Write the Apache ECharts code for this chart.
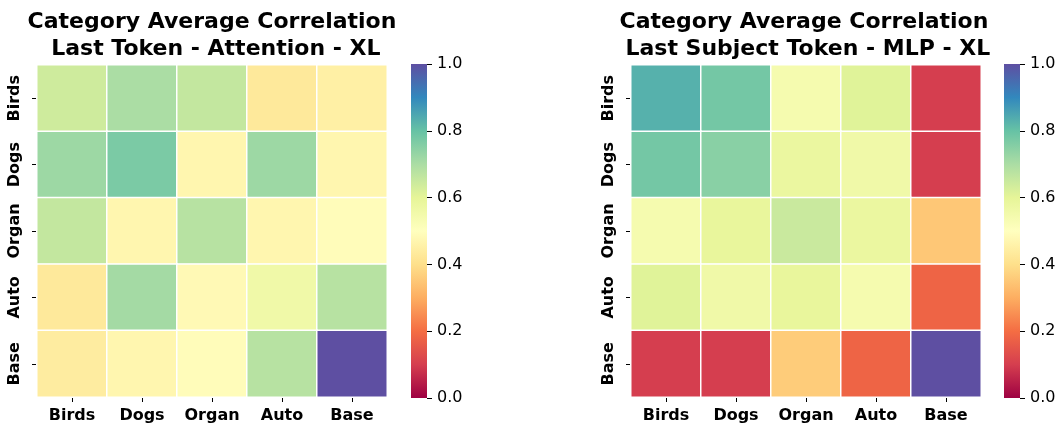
<!DOCTYPE html>
<html><head><meta charset="utf-8">
<script src="https://cdn.jsdelivr.net/npm/echarts@6/dist/echarts.min.js"></script>
<style>html,body{margin:0;padding:0;background:#fff}#c{width:1060px;height:428px}</style>
</head><body><div id="c"></div>
<script>
const categories = ['Birds','Dogs','Organ','Auto','Base'];
const titleLeft = 'Category Average Correlation\n Last Token - Attention - XL';
const titleRight = 'Category Average Correlation\n Last Subject Token - MLP - XL';
// rows: Birds..Base, columns: Birds..Base
const attnValues = [
  [0.64, 0.70, 0.66, 0.43, 0.45],
  [0.72, 0.77, 0.47, 0.72, 0.47],
  [0.66, 0.47, 0.68, 0.47, 0.49],
  [0.43, 0.71, 0.48, 0.56, 0.68],
  [0.44, 0.47, 0.49, 0.68, 1.00]
];
const mlpValues = [
  [0.83, 0.78, 0.54, 0.61, 0.10],
  [0.78, 0.75, 0.58, 0.56, 0.10],
  [0.54, 0.59, 0.65, 0.58, 0.35],
  [0.61, 0.56, 0.59, 0.54, 0.18],
  [0.10, 0.10, 0.36, 0.18, 1.00]
];
const colorbarTicks = [0, 0.2, 0.4, 0.6, 0.8, 1.0];
const spectral = ['#9e0142','#d53e4f','#f46d43','#fdae61','#fee08b','#ffffbf','#e6f598','#abdda4','#66c2a5','#3288bd','#5e4fa2'];

function toData(m){const d=[];m.forEach((row,r)=>row.forEach((v,c)=>d.push([c,r,v])));return d;}
const FONT='DejaVu Sans';
const chart = echarts.init(document.getElementById('c'));
function catX(gi){return {type:'category',gridIndex:gi,data:categories,splitArea:{show:false},
  axisLine:{show:false},axisTick:{show:true,alignWithLabel:true,interval:0,length:5,lineStyle:{color:'#000',width:1}},
  axisLabel:{interval:0,fontFamily:FONT,fontWeight:'bold',fontSize:16,color:'#000',margin:11}};}
function catY(gi){return {type:'category',gridIndex:gi,data:categories,inverse:true,
  axisLine:{show:false},axisTick:{show:true,alignWithLabel:true,interval:0,length:5,lineStyle:{color:'#000',width:1}},
  axisLabel:{interval:0,fontFamily:FONT,fontWeight:'bold',fontSize:16,color:'#000',rotate:90,margin:14}};}
function cbX(gi){return {type:'category',gridIndex:gi,data:['c'],show:false};}
function cbY(gi){return {type:'value',gridIndex:gi,min:colorbarTicks[0],max:colorbarTicks[colorbarTicks.length-1],interval:0.2,position:'right',
  splitLine:{show:false},axisLine:{show:false},
  axisTick:{show:true,length:5,lineStyle:{color:'#000'}},
  axisLabel:{fontFamily:FONT,fontSize:16,color:'#000',margin:10,formatter:v=>v.toFixed(1)}};}
const grad = new echarts.graphic.LinearGradient(0,1,0,0, spectral.map((c,i)=>({offset:i/10,color:c})));
const tStyle={fontFamily:FONT,fontWeight:'bold',fontSize:22,lineHeight:27,color:'#000'};
chart.setOption({
  animation:false,
  title:[
    {text:titleLeft,left:207,top:4,textAlign:'center',textStyle:tStyle},
    {text:titleRight,left:799,top:4,textAlign:'center',textStyle:tStyle}
  ],
  grid:[
    {left:37,top:65,width:350,height:332},
    {left:631,top:65,width:350,height:332},
    {left:411,top:64,width:16,height:334},
    {left:1004,top:64,width:16,height:334}
  ],
  xAxis:[catX(0),catX(1),cbX(2),cbX(3)],
  yAxis:[catY(0),catY(1),cbY(2),cbY(3)],
  visualMap:{show:false,min:0,max:1,seriesIndex:[0,1],inRange:{color:spectral}},
  series:[
    {type:'heatmap',xAxisIndex:0,yAxisIndex:0,data:toData(attnValues),itemStyle:{borderColor:'#fff',borderWidth:1.5}},
    {type:'heatmap',xAxisIndex:1,yAxisIndex:1,data:toData(mlpValues),itemStyle:{borderColor:'#fff',borderWidth:1.5}},
    {type:'bar',xAxisIndex:2,yAxisIndex:2,data:[1],barWidth:'100%',itemStyle:{color:grad}},
    {type:'bar',xAxisIndex:3,yAxisIndex:3,data:[1],barWidth:'100%',itemStyle:{color:grad}}
  ]
});
</script></body></html>
